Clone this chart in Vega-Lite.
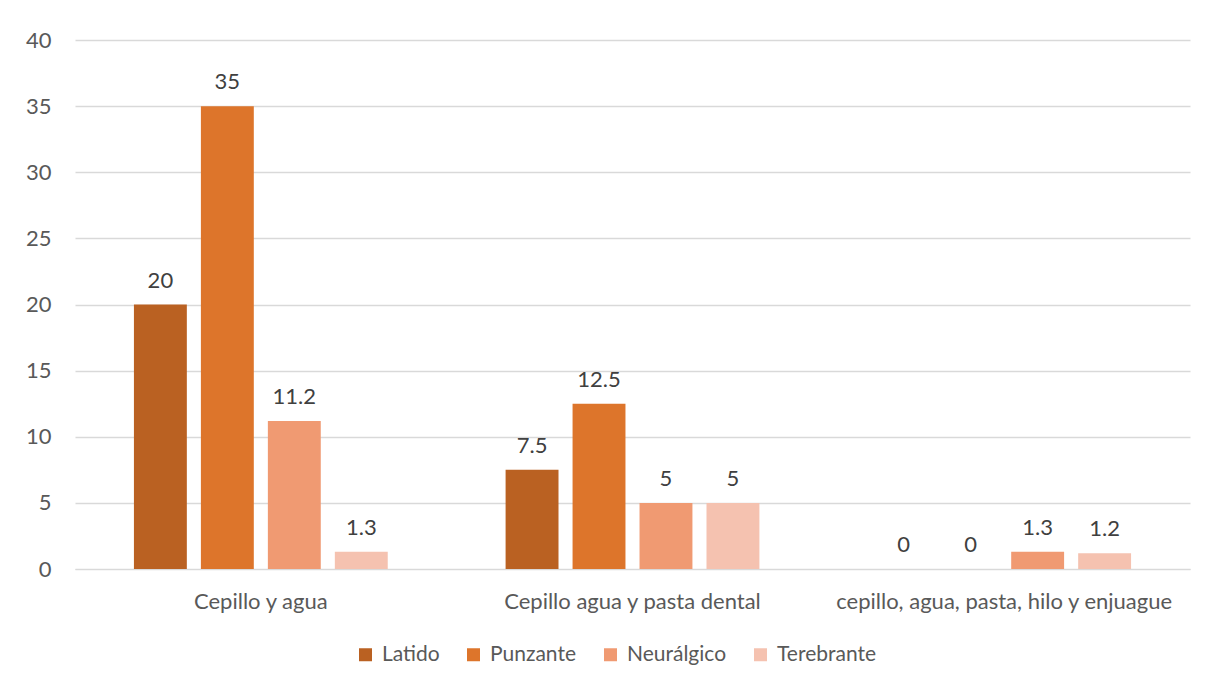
{
  "$schema": "https://vega.github.io/schema/vega-lite/v6.json",
  "autosize": {"type": "none"},
  "width": 1115,
  "height": 529,
  "padding": {"left": 75, "top": 40, "right": 26, "bottom": 115},
  "background": "white",
  "config": {
    "font": "Lato",
    "view": {"stroke": null},
    "axis": {"labelFont": "Lato", "labelFontSize": 22, "labelColor": "#595959"}
  },
  "data": {
    "values": [
      {"grupo": "Cepillo y agua", "tipo": "Latido", "valor": 20},
      {"grupo": "Cepillo y agua", "tipo": "Punzante", "valor": 35},
      {"grupo": "Cepillo y agua", "tipo": "Neurálgico", "valor": 11.2},
      {"grupo": "Cepillo y agua", "tipo": "Terebrante", "valor": 1.3},
      {"grupo": "Cepillo agua y pasta dental", "tipo": "Latido", "valor": 7.5},
      {"grupo": "Cepillo agua y pasta dental", "tipo": "Punzante", "valor": 12.5},
      {"grupo": "Cepillo agua y pasta dental", "tipo": "Neurálgico", "valor": 5},
      {"grupo": "Cepillo agua y pasta dental", "tipo": "Terebrante", "valor": 5},
      {"grupo": "cepillo, agua, pasta, hilo y enjuague", "tipo": "Latido", "valor": 0},
      {"grupo": "cepillo, agua, pasta, hilo y enjuague", "tipo": "Punzante", "valor": 0},
      {"grupo": "cepillo, agua, pasta, hilo y enjuague", "tipo": "Neurálgico", "valor": 1.3},
      {"grupo": "cepillo, agua, pasta, hilo y enjuague", "tipo": "Terebrante", "valor": 1.2}
    ]
  },
  "encoding": {
    "x": {
      "field": "grupo", "type": "nominal", "sort": null, "title": null,
      "scale": {"paddingInner": 0, "paddingOuter": 0},
      "axis": {"labelAngle": 0, "ticks": false, "domain": true, "domainColor": "#d9d9d9", "labelPadding": 32, "labelBaseline": "middle", "grid": false, "labelLimit": 500}
    },
    "xOffset": {
      "field": "tipo", "type": "nominal",
      "sort": ["Latido", "Punzante", "Neurálgico", "Terebrante"],
      "scale": {"paddingInner": 0.21, "paddingOuter": 0.88}
    },
    "y": {
      "field": "valor", "type": "quantitative", "title": null,
      "scale": {"domain": [0, 40], "nice": false},
      "axis": {"values": [0, 5, 10, 15, 20, 25, 30, 35, 40], "domain": false, "ticks": false, "labelPadding": 24, "gridColor": "#d9d9d9", "gridWidth": 1.3}
    }
  },
  "layer": [
    {
      "mark": {"type": "bar"},
      "encoding": {
        "color": {
          "field": "tipo", "type": "nominal",
          "sort": ["Latido", "Punzante", "Neurálgico", "Terebrante"],
          "scale": {"domain": ["Latido", "Punzante", "Neurálgico", "Terebrante"], "range": ["#BA6122", "#DD752B", "#F09A72", "#F5C2B0"]},
          "legend": {
            "title": null, "orient": "none", "legendX": 280, "legendY": 604, "direction": "horizontal",
            "symbolType": "square", "symbolSize": 169, "symbolStrokeWidth": 0,
            "labelFontSize": 21, "labelColor": "#595959", "labelFont": "Lato",
            "columnPadding": 23, "labelOffset": 6, "padding": 0
          }
        }
      }
    },
    {
      "mark": {"type": "text", "dy": -17, "baseline": "alphabetic", "fontSize": 22, "color": "#404040", "font": "Lato"},
      "encoding": {"text": {"field": "valor", "type": "quantitative"}}
    }
  ]
}
